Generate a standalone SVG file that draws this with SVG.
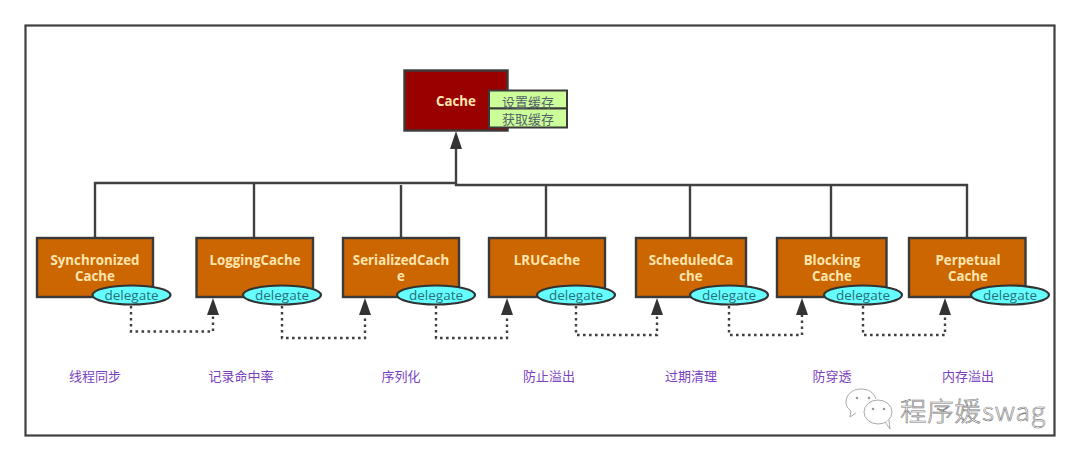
<svg xmlns="http://www.w3.org/2000/svg" width="1080" height="461" viewBox="0 0 1080 461">
<style>
text{font-family:"Open Sans","Noto Sans CJK SC",sans-serif;text-anchor:middle}
.b{fill:#cc6600;stroke:#3a3a3a;stroke-width:2.4}
.t{fill:#ffe6b0;font-size:13.3px;font-weight:700}
.e{fill:#66ffff;stroke:#333;stroke-width:2.2}
.d{fill:#26707a;font-size:13.5px}
.w{fill:none;stroke:#404040;stroke-width:2.4}
.k{fill:none;stroke:#404040;stroke-width:2.4;stroke-dasharray:2.6 3.4}
.g{fill:#ccff99;stroke:#3a3a3a;stroke-width:2}
.c{fill:#55606a;font-size:13px;font-family:"Noto Sans CJK SC",sans-serif}
.p{fill:#7a3fc0;font-size:13px;font-family:"Noto Sans CJK SC",sans-serif}
</style>
<rect width="1080" height="461" fill="#fff"/>
<rect x="25.500" y="25.500" width="1029" height="410" fill="#fff" stroke="#404040" stroke-width="2.200"/>
<g id="connectors">
<path class="w" d="M456 183H95V238M254 183V238"/>
<path class="w" d="M456 148V185H967V238M401 185V238M546 185V238M690 185V238M831 185V238" />
<path d="M450 149L456 131L462 149Z" fill="#333"/>
<path class="k" d="M131 306V331.500H213V315"/>
<path class="k" d="M282 306V338H365V315"/>
<path class="k" d="M436 306V338H507V315"/>
<path class="k" d="M576 306V335H657V315"/>
<path class="k" d="M729 306V335H802V315"/>
<path class="k" d="M863 306V335H945V315"/>
<g fill="#333">
<path d="M207 315L213 298L219 315Z"/><path d="M359 315L365 298L371 315Z"/><path d="M501 315L507 298L513 315Z"/><path d="M651 315L657 298L663 315Z"/><path d="M796 315L802 298L808 315Z"/><path d="M939 315L945 298L951 315Z"/>
</g>
</g>
<g id="cache">
<rect x="404.500" y="70.500" width="103" height="60" fill="#990000" stroke="#3a3a3a" stroke-width="2.400"/>
<text class="t" x="456" y="106">Cache</text>
<rect class="g" x="489" y="90.500" width="78" height="18"/>
<rect class="g" x="489" y="108.500" width="78" height="19"/>
<text class="c" x="528" y="106.500">设置缓存</text>
<text class="c" x="528" y="124">获取缓存</text>
</g>
<g id="synchronized-cache">
<rect class="b" x="37" y="238" width="116" height="59"/>
<text class="t" x="95" y="265">Synchronized</text><text class="t" x="95" y="281">Cache</text>
<ellipse class="e" cx="131.500" cy="295" rx="39" ry="9.500"/><text class="d" x="131.500" y="300">delegate</text>
</g>
<g id="logging-cache">
<rect class="b" x="196.500" y="238" width="116.500" height="59"/>
<text class="t" x="255" y="265">LoggingCache</text>
<ellipse class="e" cx="282" cy="295" rx="39" ry="9.500"/><text class="d" x="282" y="300">delegate</text>
</g>
<g id="serialized-cache">
<rect class="b" x="343" y="238" width="116" height="59"/>
<text class="t" x="401" y="265">SerializedCach</text><text class="t" x="401" y="281">e</text>
<ellipse class="e" cx="436" cy="295" rx="39" ry="9.500"/><text class="d" x="436" y="300">delegate</text>
</g>
<g id="lru-cache">
<rect class="b" x="489" y="238" width="116" height="59"/>
<text class="t" x="547" y="265">LRUCache</text>
<ellipse class="e" cx="576" cy="295" rx="39" ry="9.500"/><text class="d" x="576" y="300">delegate</text>
</g>
<g id="scheduled-cache">
<rect class="b" x="636" y="238" width="110" height="59"/>
<text class="t" x="691" y="265">ScheduledCa</text><text class="t" x="691" y="281">che</text>
<ellipse class="e" cx="729" cy="295" rx="39" ry="9.500"/><text class="d" x="729" y="300">delegate</text>
</g>
<g id="blocking-cache">
<rect class="b" x="777" y="238" width="109.500" height="59"/>
<text class="t" x="832" y="265">Blocking</text><text class="t" x="832" y="281">Cache</text>
<ellipse class="e" cx="863" cy="295" rx="39" ry="9.500"/><text class="d" x="863" y="300">delegate</text>
</g>
<g id="perpetual-cache">
<rect class="b" x="909" y="238" width="116.500" height="59"/>
<text class="t" x="968" y="265">Perpetual</text><text class="t" x="968" y="281">Cache</text>
<ellipse class="e" cx="1010" cy="295" rx="39" ry="9.500"/><text class="d" x="1010" y="300">delegate</text>
</g>
<g id="labels">
<text class="p" x="95" y="381">线程同步</text>
<text class="p" x="241" y="381">记录命中率</text>
<text class="p" x="401" y="381">序列化</text>
<text class="p" x="549" y="381">防止溢出</text>
<text class="p" x="691" y="381">过期清理</text>
<text class="p" x="832" y="381">防穿透</text>
<text class="p" x="968" y="381">内存溢出</text>
</g>
<g id="watermark">
<path d="M861 389c-9 0-15 6-15 13c0 4 2 7 5 9l-1 6l6-4" fill="#fff" stroke="#aaa"/>
<path d="M861 389c8 0 13 4 15 10" fill="none" stroke="#aaa"/>
<ellipse cx="878" cy="412" rx="14" ry="12" fill="#fff" stroke="#aaa"/>
<path d="M885 422l5 7l-1-9" fill="#fff" stroke="#aaa"/>
<g fill="#999"><circle cx="857" cy="398" r="1.300"/><circle cx="869" cy="398" r="1.300"/><circle cx="873" cy="409" r="1.300"/><circle cx="884" cy="409" r="1.300"/></g>
<text x="973" y="421" style="font-family:'Noto Sans CJK SC',sans-serif;font-size:26.500px;font-weight:300;letter-spacing:0.800px" fill="#fff" stroke="#777" stroke-width="0.600">程序媛swag</text>
</g>
</svg>
